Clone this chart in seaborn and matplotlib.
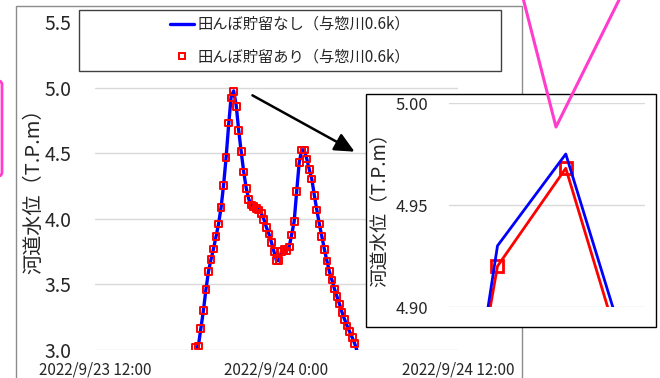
import numpy as np
import pandas as pd
import matplotlib
matplotlib.use("Agg")
import matplotlib.pyplot as plt
import seaborn as sns
from matplotlib.lines import Line2D
from matplotlib.patches import Rectangle, FancyArrowPatch, FancyBboxPatch

# data (10-minute steps from 2022/9/23 18:40)
times = pd.date_range("2022-09-23 18:40", periods=65, freq="10min")
level_no_storage = [3.02, 3.03, 3.165, 3.30, 3.46, 3.597, 3.69, 3.77, 3.864, 3.96,
                    4.085, 4.255, 4.466, 4.712, 4.930, 4.975, 4.866, 4.675, 4.51, 4.357,
                    4.232, 4.15, 4.105, 4.092, 4.08, 4.067, 4.042, 3.996, 3.935, 3.884,
                    3.82, 3.75, 3.681, 3.681, 3.75, 3.765, 3.755, 3.785, 3.877, 3.979,
                    4.207, 4.428, 4.525, 4.525, 4.456, 4.377, 4.303, 4.18, 4.067, 3.96,
                    3.864, 3.767, 3.678, 3.597, 3.533, 3.465, 3.406, 3.35, 3.287, 3.234,
                    3.183, 3.14, 3.097, 3.05, 2.99]
level_storage = [3.02, 3.03, 3.165, 3.30, 3.46, 3.597, 3.69, 3.77, 3.864, 3.96,
                 4.085, 4.255, 4.466, 4.73, 4.920, 4.968, 4.857, 4.675, 4.51, 4.357,
                 4.232, 4.15, 4.105, 4.092, 4.08, 4.067, 4.042, 3.996, 3.935, 3.884,
                 3.82, 3.75, 3.681, 3.681, 3.75, 3.765, 3.755, 3.785, 3.877, 3.979,
                 4.207, 4.428, 4.525, 4.525, 4.456, 4.377, 4.303, 4.18, 4.067, 3.96,
                 3.864, 3.767, 3.678, 3.597, 3.533, 3.465, 3.406, 3.35, 3.287, 3.234,
                 3.183, 3.14, 3.097, 3.05, np.nan]

label_no = "田んぼ貯留なし（与惣川0.6k）"
label_yes = "田んぼ貯留あり（与惣川0.6k）"
ylabel = "河道水位（T.P.m）"
xtick_times = pd.to_datetime(["2022-09-23 12:00", "2022-09-24 00:00", "2022-09-24 12:00"])
xtick_labels = ["2022/9/23 12:00", "2022/9/24 0:00", "2022/9/24 12:00"]
main_yticks = [3.0, 3.5, 4.0, 4.5, 5.0, 5.5]
inset_yticks = [4.90, 4.95, 5.00]

df = pd.DataFrame({"time": times, "no": level_no_storage, "yes": level_storage})

sns.set_style("white")
plt.rcParams["font.family"] = ["Noto Sans CJK JP", "DejaVu Sans"]

W, H = 660, 378
fig = plt.figure(figsize=(6.6, 3.78), dpi=100)
fig.patch.set_facecolor("white")

def fx(px):
    return px / W

def fy(py):
    return 1 - py / H

# outer chart frame
fig.add_artist(Rectangle((fx(16), -0.05), fx(522) - fx(16), fy(6) + 0.05,
                         transform=fig.transFigure, fill=False,
                         edgecolor="#8c8c8c", lw=1, zorder=0.5))

# main axes
ax_left, ax_right = 95, 458
ax = fig.add_axes([fx(ax_left), fy(350), fx(ax_right) - fx(ax_left), fy(22) - fy(350)])
ax.set_zorder(1)
ax.patch.set_alpha(0)
sns.lineplot(data=df, x="time", y="no", ax=ax, color="#0000ff", lw=2.4, zorder=2)
sns.scatterplot(data=df, x="time", y="yes", ax=ax, marker="s", s=24,
                facecolor="none", edgecolor="#ff0000", linewidth=1.4, zorder=3)
ax.set_xlim(xtick_times[0], xtick_times[-1])
ax.set_ylim(3.0, 5.5)
ax.set_yticks(main_yticks)
ax.set_yticklabels([f"{v:.1f}" for v in main_yticks], fontsize=14)
ax.set_xticks(xtick_times)
ax.set_xticklabels(xtick_labels, fontsize=11)
ax.tick_params(axis="y", length=0, pad=17)
ax.tick_params(axis="x", length=0, pad=8.5)
ax.grid(axis="y", color="#d9d9d9", lw=1)
ax.set_axisbelow(True)
for s in ax.spines.values():
    s.set_visible(False)
ax.set_xlabel("")
ax.set_ylabel(ylabel, fontsize=14.5)
ax.yaxis.set_label_coords((44 - ax_left) / (ax_right - ax_left), 0.5)

# legend box + legend
fig.add_artist(Rectangle((fx(79), fy(71)), fx(501) - fx(79), fy(10) - fy(71),
                         transform=fig.transFigure, facecolor="white",
                         edgecolor="#404040", lw=1, zorder=2))
handles = [Line2D([], [], color="#0000ff", lw=2.4),
           Line2D([], [], ls="", marker="s", ms=5, mfc="none", mec="#ff0000", mew=1.4)]
leg = fig.legend(handles, [label_no, label_yes], loc="center",
                 bbox_to_anchor=(fx(290), fy(40.5)), frameon=False, fontsize=11,
                 handlelength=1.6, handletextpad=0.25, labelspacing=1.0)
leg.set_zorder(3)

# inset frame + inset axes
fig.add_artist(Rectangle((fx(366), fy(327)), fx(656) - fx(366), fy(94) - fy(327),
                         transform=fig.transFigure, facecolor="white",
                         edgecolor="black", lw=1, zorder=4))
in_left, in_right = 449, 645
axi = fig.add_axes([fx(in_left), fy(307), fx(in_right) - fx(in_left), fy(103) - fy(307)])
axi.set_zorder(5)
axi.patch.set_alpha(0)
sns.lineplot(data=df, x="time", y="yes", ax=axi, color="#ff0000", lw=2.0,
             marker="s", ms=9, mfc="none", mec="#ff0000", mew=2.0, zorder=2)
sns.lineplot(data=df, x="time", y="no", ax=axi, color="#0000ff", lw=2.0, zorder=3)
t14 = times[14]
axi.set_xlim(t14 - pd.Timedelta(minutes=7.1), t14 + pd.Timedelta(minutes=21.6))
axi.set_ylim(4.90, 5.00)
axi.set_yticks(inset_yticks)
axi.set_yticklabels([f"{v:.2f}" for v in inset_yticks], fontsize=12)
axi.set_xticks([])
axi.tick_params(axis="y", length=0, pad=15)
axi.grid(axis="y", color="#d9d9d9", lw=1)
axi.set_axisbelow(True)
for s in axi.spines.values():
    s.set_visible(False)
axi.set_xlabel("")
axi.set_ylabel(ylabel, fontsize=13.5)
axi.yaxis.set_label_coords((390 - in_left) / (in_right - in_left), 0.5)

# arrow from main peak to inset
fig.add_artist(FancyArrowPatch((fx(250), fy(94)), (fx(357), fy(153)),
                               transform=fig.transFigure,
                               arrowstyle="-|>,head_length=0.8,head_width=0.38",
                               mutation_scale=15, color="black", lw=1.8, zorder=6))

# pink annotation marks
fig.add_artist(Line2D([fx(523), fx(556), fx(620)], [fy(-2), fy(127), fy(-2)],
                      transform=fig.transFigure, color="#ff3ccc", lw=2.2, zorder=7))
fig.add_artist(FancyBboxPatch((fx(-30), fy(177)), fx(32), fy(80) - fy(177),
                              boxstyle="round,pad=0,rounding_size=0.012",
                              transform=fig.transFigure, fill=False,
                              edgecolor="#ff3ccc", lw=2, zorder=7))

fig.savefig("out.png", dpi=100)
